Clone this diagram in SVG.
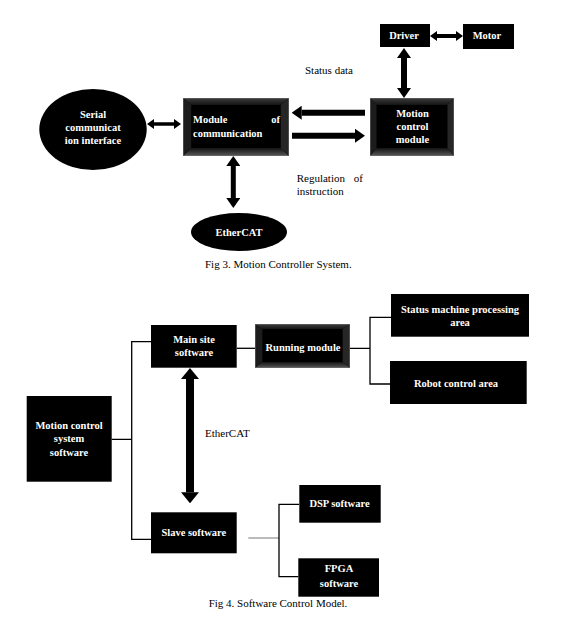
<svg xmlns="http://www.w3.org/2000/svg" width="561" height="627" viewBox="0 0 561 627">
<style>
.box{fill:#000}
.t{font-family:"Liberation Serif","Times New Roman",serif;font-weight:bold;font-size:10.5px;fill:#fff}
.c{text-anchor:middle}
.lbl{font-family:"Liberation Serif","Times New Roman",serif;font-size:11px;fill:#000}
.conn{fill:none;stroke:#000;stroke-width:1.3}
.grey{fill:none;stroke:#aaa;stroke-width:1.6}
.arr{stroke:#000}
</style>
<defs>
<linearGradient id="gTop" x1="0" y1="0" x2="0" y2="1"><stop offset="0" stop-color="#3c3c3c"/><stop offset="1" stop-color="#151515"/></linearGradient>
<linearGradient id="gBot" x1="0" y1="0" x2="0" y2="1"><stop offset="0" stop-color="#111"/><stop offset="1" stop-color="#5a5a5a"/></linearGradient>
<symbol id="bevel" viewBox="0 0 100 100" preserveAspectRatio="none">
<rect x="0" y="0" width="100" height="100" fill="#000"/>
<polygon points="0,0 100,0 92,12 8,12" fill="url(#gTop)"/>
<polygon points="0,100 100,100 92,86 8,86" fill="url(#gBot)"/>
<polygon points="0,0 8,12 8,86 0,100" fill="#1c1c1c"/>
<polygon points="100,0 92,12 92,86 100,100" fill="#262626"/>
<rect x="8" y="12" width="84" height="74" fill="#000"/>
<rect x="0" y="0" width="100" height="100" fill="none" stroke="#777" stroke-width="1" vector-effect="non-scaling-stroke"/>
</symbol>
<marker id="hS" viewBox="0 0 7 10" refX="0" refY="5" markerWidth="7" markerHeight="10" markerUnits="userSpaceOnUse" orient="auto-start-reverse"><path d="M0,0 L7,5 L0,10 z"/></marker>
<marker id="hM" viewBox="0 0 10 14" refX="0" refY="7" markerWidth="10" markerHeight="14" markerUnits="userSpaceOnUse" orient="auto-start-reverse"><path d="M0,0 L10,7 L0,14 z"/></marker>
<marker id="hL" viewBox="0 0 11 18" refX="0" refY="9" markerWidth="11" markerHeight="18" markerUnits="userSpaceOnUse" orient="auto-start-reverse"><path d="M0,0 L11,9 L0,18 z"/></marker>
</defs>
<rect width="561" height="627" fill="#fff"/>

<g id="connectors">
<line class="arr" x1="154" y1="124" x2="174" y2="124" stroke-width="3.5" marker-start="url(#hS)" marker-end="url(#hS)"/>
<line class="arr" x1="365" y1="112.7" x2="301.7" y2="112.7" stroke-width="6" marker-end="url(#hM)"/>
<line class="arr" x1="292" y1="135.7" x2="355" y2="135.7" stroke-width="6" marker-end="url(#hM)"/>
<line class="arr" x1="404" y1="58" x2="404" y2="88" stroke-width="6" marker-start="url(#hM)" marker-end="url(#hM)"/>
<line class="arr" x1="437" y1="36" x2="456" y2="36" stroke-width="4" marker-start="url(#hS)" marker-end="url(#hS)"/>
<line class="arr" x1="233.3" y1="166" x2="233.3" y2="198" stroke-width="5" marker-start="url(#hM)" marker-end="url(#hM)"/>
<line class="arr" x1="190" y1="379" x2="190" y2="492.3" stroke-width="8" marker-start="url(#hL)" marker-end="url(#hL)"/>
<path class="conn" d="M111.7 439.3 H131.7 M151 341.7 H131.7 V539.3 H151"/>
<path class="conn" d="M236.7 348.3 H255"/>
<path class="conn" d="M350 348.3 H370 M391 317.3 H370 V384 H390"/>
<path class="grey" d="M248.3 538 H279"/>
<path class="conn" d="M299 504.3 H279 V576.7 H298.3"/>
</g>

<g id="serial">
<ellipse cx="93" cy="129.5" rx="53.7" ry="40.5" fill="#000"/>
<text class="t c" x="93" y="118">Serial</text>
<text class="t c" x="93" y="131">communicat</text>
<text class="t c" x="93" y="143.5">ion interface</text>
</g>
<g id="module-comm">
<use href="#bevel" x="183" y="98" width="106" height="58"/>
<text class="t" x="193" y="123">Module</text>
<text class="t" x="280" y="123" text-anchor="end">of</text>
<text class="t" x="193" y="136.5">communication</text>
</g>
<g id="motion-module">
<use href="#bevel" x="370" y="98" width="84" height="58"/>
<text class="t c" x="412.5" y="117">Motion</text>
<text class="t c" x="412.5" y="130">control</text>
<text class="t c" x="412.5" y="143">module</text>
</g>
<g id="driver">
<rect class="box" x="380" y="24" width="50" height="23"/>
<text class="t c" x="404" y="38.5">Driver</text>
</g>
<g id="motor">
<rect class="box" x="463" y="24" width="51" height="25"/>
<text class="t c" x="487" y="39">Motor</text>
</g>
<g id="ethercat">
<ellipse cx="239" cy="232" rx="48" ry="19" fill="#000"/>
<text class="t c" x="239" y="236">EtherCAT</text>
</g>
<g id="fig3-labels">
<text class="lbl" x="305" y="74">Status data</text>
<text class="lbl" x="296.7" y="182">Regulation</text>
<text class="lbl" x="363" y="182" text-anchor="end">of</text>
<text class="lbl" x="296.7" y="195">instruction</text>
<text class="lbl c" x="278.3" y="268">Fig 3. Motion Controller System.</text>
</g>

<g id="main-site">
<rect class="box" x="151" y="325" width="85.7" height="42.7"/>
<text class="t c" x="194" y="343.3">Main site</text>
<text class="t c" x="194" y="356">software</text>
</g>
<g id="running">
<use href="#bevel" x="255" y="324" width="95" height="44"/>
<text class="t c" x="303" y="351">Running module</text>
</g>
<g id="status-machine">
<rect class="box" x="391" y="294" width="138" height="42.7"/>
<text class="t c" x="460" y="312.7">Status machine processing</text>
<text class="t c" x="460" y="325.5">area</text>
</g>
<g id="robot-control">
<rect class="box" x="390" y="361" width="136.7" height="43"/>
<text class="t c" x="456" y="386.7">Robot control area</text>
</g>
<g id="mcss">
<rect class="box" x="26.7" y="396" width="85" height="85.7"/>
<text class="t c" x="69" y="429">Motion control</text>
<text class="t c" x="69" y="442.3">system</text>
<text class="t c" x="69" y="455.7">software</text>
</g>
<g id="slave">
<rect class="box" x="151" y="512.3" width="85.7" height="41"/>
<text class="t c" x="193.8" y="535.7">Slave software</text>
</g>
<g id="dsp">
<rect class="box" x="299.3" y="485" width="81.4" height="37.7"/>
<text class="t c" x="339.5" y="506.7">DSP software</text>
</g>
<g id="fpga">
<rect class="box" x="298.3" y="558.3" width="80.7" height="38.4"/>
<text class="t c" x="339" y="572">FPGA</text>
<text class="t c" x="339" y="587">software</text>
</g>
<g id="fig4-labels">
<text class="lbl" x="205" y="436.7">EtherCAT</text>
<text class="lbl c" x="278" y="606.5">Fig 4. Software Control Model.</text>
</g>
</svg>
